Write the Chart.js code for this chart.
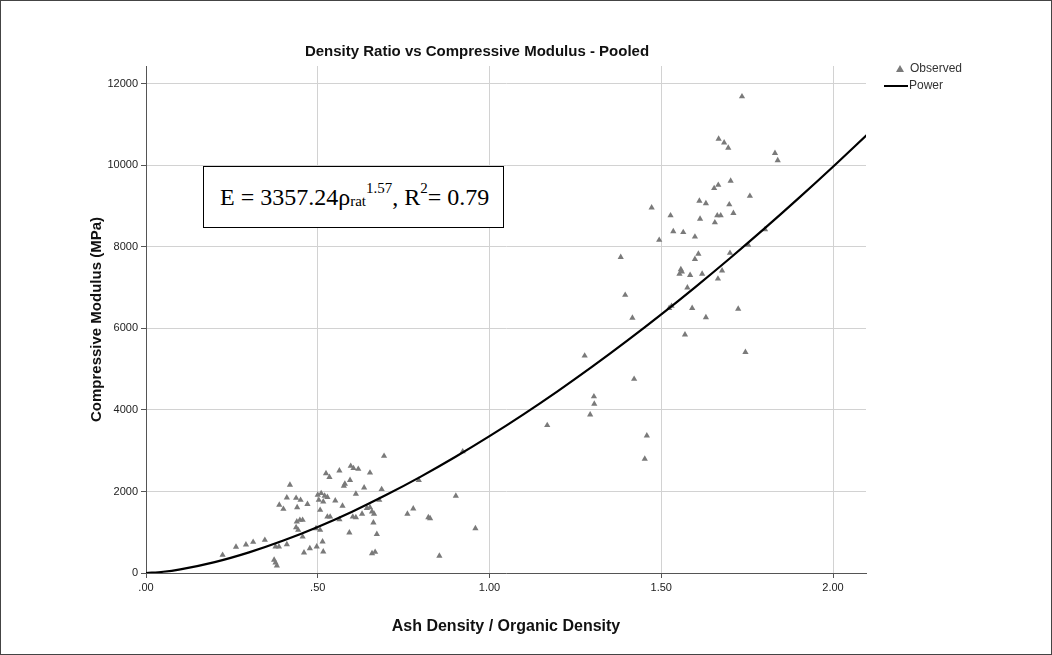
<!DOCTYPE html>
<html>
<head>
<meta charset="utf-8">
<title>Density Ratio vs Compressive Modulus - Pooled</title>
<script src="https://cdn.jsdelivr.net/npm/chart.js@4.4.1/dist/chart.umd.min.js"></script>
<style>
  body { margin: 0; background: #fff; }
  #wrap { position: relative; width: 1052px; height: 655px; }
  #frame { position: absolute; left: 0; top: 0; width: 1050px; height: 653px; border: 1px solid #444; pointer-events: none; }
  #eqn {
    position: absolute; left: 203px; top: 166px; height: 60px;
    padding: 0 14px 0 16px; border: 1px solid #000; background: #fff;
    font-family: "Liberation Serif", "Times New Roman", serif; font-size: 24px; color: #000;
    display: flex; align-items: center; white-space: nowrap;
  }
  #eqn sub, #eqn sup { font-size: 15px; }
  #eqn sub { position: relative; top: 4px; vertical-align: baseline; }
  #eqn sup { position: relative; top: -9px; vertical-align: baseline; }
  #legend { position: absolute; left: 880px; top: 61px; font-family: "Liberation Sans", Arial, sans-serif; font-size: 12px; color: #333; }
  .row { position: relative; height: 17px; }
  .tri { position: absolute; left: 16px; top: 4px; width: 0; height: 0;
    border-left: 4px solid transparent; border-right: 4px solid transparent; border-bottom: 7px solid #7a7a7a; }
  .ln { position: absolute; left: 4px; top: 7px; width: 24px; height: 2px; background: #000; }
  .txt { position: absolute; top: 0; }
</style>
</head>
<body>
<div id="wrap">
  <canvas id="chart" width="1052" height="655"></canvas>
  <div id="eqn">E = 3357.24ρ<sub>rat</sub><sup>1.57</sup>, R<sup>2</sup> = 0.79</div>
  <div id="legend">
    <div class="row"><span class="tri"></span><span class="txt" style="left:30px">Observed</span></div>
    <div class="row"><span class="ln"></span><span class="txt" style="left:29px">Power</span></div>
  </div>
  <div id="frame"></div>
</div>
<script>
// --- DATA ---
const obsX = [
  0.223, 0.262, 0.291, 0.312, 0.346, 0.377, 0.387, 0.410, 0.373, 0.377, 0.381,
  0.419, 0.410, 0.388, 0.400, 0.437, 0.450, 0.440, 0.470, 0.439, 0.448, 0.456,
  0.437, 0.443, 0.456, 0.477, 0.460, 0.497, 0.516, 0.514, 0.507, 0.495, 0.507,
  0.500, 0.510, 0.520, 0.528, 0.503, 0.516, 0.551, 0.528, 0.536, 0.563, 0.572,
  0.524, 0.534, 0.563, 0.576, 0.579, 0.594, 0.596, 0.604, 0.618, 0.652, 0.611,
  0.635, 0.602, 0.611, 0.629, 0.643, 0.652, 0.658, 0.664, 0.592, 0.662, 0.672,
  0.658, 0.667, 0.693, 0.686, 0.679, 0.794, 0.761, 0.778, 0.822, 0.827, 0.854,
  0.902, 0.922, 0.959,
  1.168, 1.277, 1.293, 1.304, 1.305, 1.382, 1.395, 1.416, 1.421, 1.452, 1.458,
  1.472, 1.494, 1.523, 1.530, 1.527, 1.535, 1.553, 1.557, 1.560, 1.564, 1.569,
  1.576, 1.584, 1.590, 1.598, 1.598, 1.608, 1.611, 1.613, 1.619, 1.630, 1.630,
  1.654, 1.656, 1.663, 1.665, 1.666, 1.667, 1.673, 1.677, 1.683, 1.695, 1.698,
  1.700, 1.702, 1.710, 1.724, 1.735, 1.745, 1.753, 1.758, 1.802, 1.831, 1.839
];
const obsY = [
  440, 640, 695, 760, 810, 645, 645, 700, 320, 250, 180,
  2160, 1850, 1670, 1570, 1840, 1790, 1610, 1690, 1260, 1300, 1300,
  1120, 1055, 890, 605, 500, 645, 525, 770, 1055, 1095, 1545,
  1915, 1955, 1890, 1860, 1790, 1750, 1775, 1380, 1380, 1315, 1645,
  2445, 2350, 2510, 2135, 2185, 2280, 2625, 2570, 2550, 2460, 1940,
  2095, 1380, 1365, 1450, 1590, 1610, 1505, 1450, 990, 1235, 955,
  480, 515, 2870, 2055, 1790, 2280, 1450, 1580, 1365, 1340, 420,
  1890, 2980, 1095,
  3625, 5330, 3885, 4330, 4150, 7750, 6820, 6260, 4760, 2800, 3370,
  8965, 8170, 6500, 6550, 8770, 8380, 7340, 7450, 7390, 8360, 5850,
  7000, 7310, 6500, 8250, 7700, 7830, 9130, 8690, 7340, 9070, 6270,
  9440, 8600, 8770, 7220, 9520, 10650, 8770, 7420, 10560, 10430, 9040,
  7850, 9620, 8830, 6480, 11690, 5420, 8050, 9250, 8430, 10300, 10125
];

// fitted power curve
const powerX = [0, 0.05, 0.1, 0.2, 0.3, 0.4, 0.5, 0.6, 0.7, 0.8, 0.9, 1.0,
  1.1, 1.2, 1.3, 1.4, 1.5, 1.6, 1.7, 1.8, 1.9, 2.0, 2.1];
const powerY = [0, 30, 90, 268, 507, 797, 1131, 1505, 1918, 2365, 2846, 3357,
  3899, 4470, 5068, 5694, 6345, 7022, 7723, 8448, 9197, 9968, 10761];

const xTicks = [0, 0.5, 1.0, 1.5, 2.0];
const yTicks = [0, 2000, 4000, 6000, 8000, 10000, 12000];

const FONT = '"Liberation Sans", Arial, sans-serif';

function toPoints(xs, ys) {
  return xs.map((x, i) => ({ x: x, y: ys[i] }));
}

const ctx = document.getElementById('chart').getContext('2d');
new Chart(ctx, {
  type: 'scatter',
  data: {
    datasets: [
      {
        label: 'Observed',
        data: toPoints(obsX, obsY),
        pointStyle: 'triangle',
        pointRadius: 3.6,
        backgroundColor: '#7a7a7a',
        borderColor: '#7a7a7a',
        borderWidth: 0,
        order: 2
      },
      {
        label: 'Power',
        type: 'line',
        data: toPoints(powerX, powerY),
        borderColor: '#000',
        borderWidth: 2.2,
        pointRadius: 0,
        fill: false,
        cubicInterpolationMode: 'monotone',
        order: 1
      }
    ]
  },
  options: {
    responsive: false,
    animation: false,
    layout: { padding: { left: 88, right: 186, top: 0, bottom: 19 } },
    plugins: {
      legend: { display: false },
      tooltip: { enabled: false },
      title: {
        display: true,
        text: 'Density Ratio vs Compressive Modulus - Pooled',
        color: '#111',
        font: { family: FONT, size: 15, weight: 'bold', lineHeight: 1.2 },
        padding: { top: 43, bottom: 5 }
      }
    },
    scales: {
      x: {
        type: 'linear',
        min: 0,
        max: 2.096,
        afterFit: s => { s.height = 63; },
        afterBuildTicks: s => { s.ticks = xTicks.map(v => ({ value: v })); },
        ticks: {
          includeBounds: false,
          color: '#222',
          font: { family: FONT, size: 11 },
          padding: 3,
          maxRotation: 0,
          callback: v => v.toFixed(2).replace(/^0/, '')
        },
        grid: { color: '#d2d2d2', lineWidth: 1, tickLength: 5, tickColor: '#555' },
        border: { display: true, color: '#555', width: 1 },
        title: {
          display: true,
          text: 'Ash Density / Organic Density',
          color: '#111',
          font: { family: FONT, size: 16, weight: 'bold', lineHeight: 1.2 },
          padding: 0
        }
      },
      y: {
        type: 'linear',
        min: 0,
        max: 12440,
        afterFit: s => { s.width = 58; },
        afterBuildTicks: s => { s.ticks = yTicks.map(v => ({ value: v })); },
        ticks: {
          includeBounds: false,
          color: '#222',
          font: { family: FONT, size: 11 },
          padding: 3,
          callback: v => String(v)
        },
        grid: { color: '#d2d2d2', lineWidth: 1, tickLength: 5, tickColor: '#555' },
        border: { display: true, color: '#555', width: 1 },
        title: {
          display: true,
          text: 'Compressive Modulus (MPa)',
          color: '#111',
          font: { family: FONT, size: 15, weight: 'bold', lineHeight: 1.2 },
          padding: 0
        }
      }
    }
  }
});
</script>
</body>
</html>
